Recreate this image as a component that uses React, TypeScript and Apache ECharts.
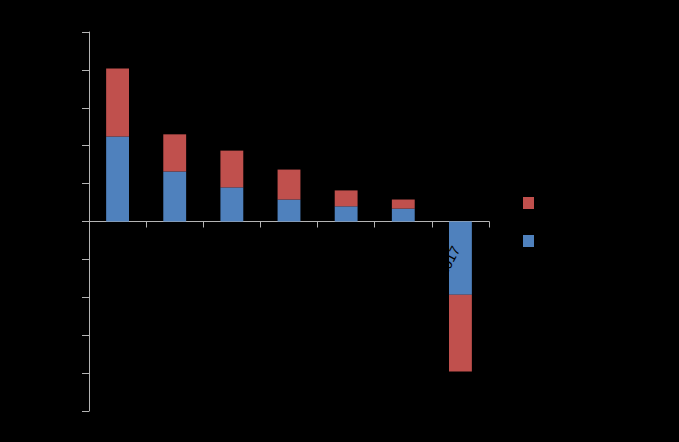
import React, { useEffect, useRef } from "react";
import * as echarts from "echarts";

const categories = ["2011", "2012", "2013", "2014", "2015", "2016", "2017"];
const seriesBlueName = "Series 1";
const seriesRedName = "Series 2";
const blueValues = [2.24, 1.32, 0.9, 0.58, 0.4, 0.34, -1.93];
const redValues = [1.8, 0.98, 0.97, 0.79, 0.42, 0.24, -2.03];
const yMin = -5;
const yMax = 5;
const yInterval = 1;

export default function App() {
  const ref = useRef<HTMLDivElement>(null);
  useEffect(() => {
    if (!ref.current) return;
    const chart = echarts.init(ref.current, null, { renderer: "svg" });
    chart.setOption({
      animation: false,
      backgroundColor: "#000000",
      textStyle: { fontFamily: "Liberation Sans, Arial, sans-serif" },
      grid: {
        left: 89,
        right: 190,
        top: 32,
        bottom: 31,
        containLabel: false,
        outerBoundsMode: "none",
      },
      legend: {
        orient: "vertical",
        left: 523,
        top: 197,
        padding: 0,
        itemWidth: 11,
        itemHeight: 12,
        itemGap: 26,
        icon: "rect",
        data: [seriesRedName, seriesBlueName],
        textStyle: { color: "#000000", fontSize: 12, lineHeight: 12 },
      },
      xAxis: [
        {
          type: "category",
          data: categories,
          axisLine: { onZero: true, lineStyle: { color: "#b4b4b4", width: 1 } },
          axisTick: { show: true, length: 6, lineStyle: { color: "#b4b4b4" } },
          axisLabel: { show: false },
          splitLine: { show: false },
        },
        {
          type: "category",
          data: categories,
          position: "bottom",
          offset: -190,
          z: 5,
          axisLine: { show: false, onZero: false },
          axisTick: { show: false },
          axisLabel: {
            color: "#000000",
            fontSize: 14,
            rotate: 62,
            margin: 18,
            padding: [0, 9, 0, 0],
          },
          splitLine: { show: false },
        },
      ],
      yAxis: {
        type: "value",
        min: yMin,
        max: yMax,
        interval: yInterval,
        axisLine: { show: true, lineStyle: { color: "#b4b4b4", width: 1 } },
        axisTick: { show: true, length: 7, lineStyle: { color: "#b4b4b4" } },
        axisLabel: { color: "#000000", fontSize: 12 },
        splitLine: { show: false },
      },
      series: [
        {
          name: seriesBlueName,
          type: "bar",
          stack: "total",
          data: blueValues,
          barWidth: "40%",
          itemStyle: { color: "#4f81bd" },
        },
        {
          name: seriesRedName,
          type: "bar",
          stack: "total",
          data: redValues,
          barWidth: "40%",
          itemStyle: { color: "#c0504d" },
        },
      ],
    });
    return () => chart.dispose();
  }, []);
  return (
    <div
      ref={ref}
      style={{ position: "fixed", left: 0, top: 0, width: 679, height: 442 }}
    />
  );
}
